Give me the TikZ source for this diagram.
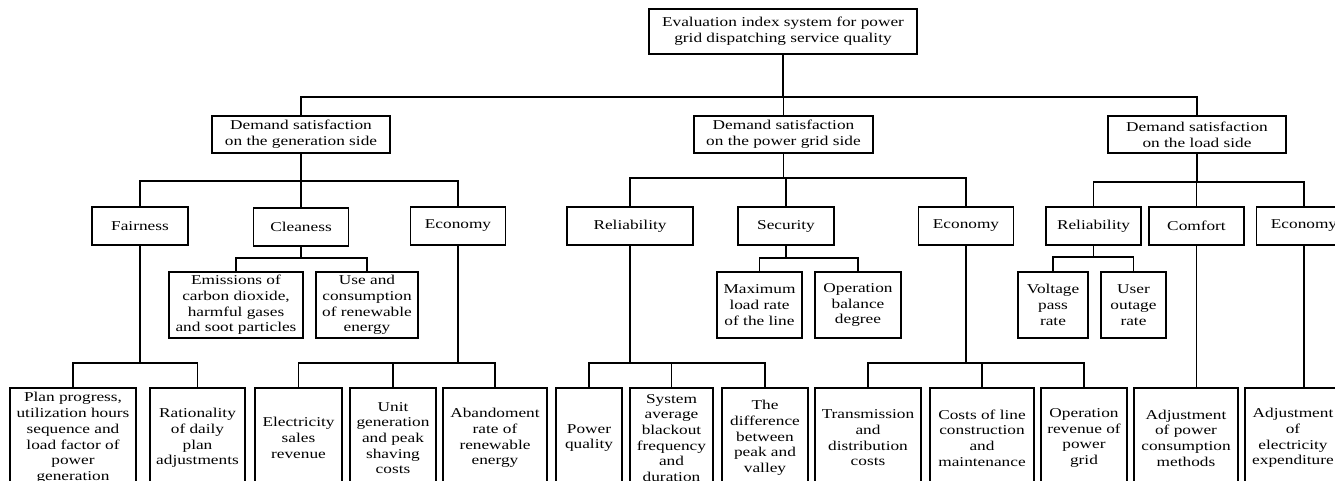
\documentclass[tikz,border=0pt]{standalone}
\usepackage{fontspec}
\setmainfont[FakeStretch=1.28]{Liberation Serif}
\begin{document}
\begin{tikzpicture}[x=1pt,y=-1pt,line width=1.2pt,
        box/.style={draw,align=center,inner sep=0pt,font=\fontsize{13.5}{15.7}\selectfont},
        top/.style={box,minimum height=37pt},
        crit/.style={box,minimum height=38pt},
        sub/.style={box,minimum height=66pt},
        leaf/.style={box,minimum height=100pt}]
        \useasboundingbox (0,0) rectangle (1335,481);
        \clip (0,0) rectangle (1335,481);
        \node[box,minimum width=268pt,minimum height=45pt] (root) at (783,31.5) {Evaluation index system for power\\grid dispatching service quality};
        \node[top,minimum width=178pt] (gen) at (301,134.5) {Demand satisfaction\\on the generation side};
        \node[top,minimum width=179pt] (grid) at (783.5,134.5) {Demand satisfaction\\on the power grid side};
        \node[top,minimum width=178pt] (load) at (1197,134.5) {Demand satisfaction\\on the load side};
        \node[crit,minimum width=96pt] (fair) at (140,226) {Fairness};
        \node[crit,minimum width=95pt] (clean) at (301,227) {Cleaness};
        \node[crit,minimum width=95pt] (econG) at (458,226) {Economy};
        \node[crit,minimum width=126pt] (relP) at (630,226) {Reliability};
        \node[crit,minimum width=96pt] (sec) at (786,226) {Security};
        \node[crit,minimum width=95pt] (econP) at (966,226) {Economy};
        \node[crit,minimum width=95pt] (relL) at (1093.5,226) {Reliability};
        \node[crit,minimum width=95pt] (comf) at (1196.5,226) {Comfort};
        \node[crit,minimum width=95pt] (econL) at (1304,226) {Economy};
        \node[sub,minimum width=134pt] (emis) at (236,305) {Emissions of\\carbon dioxide,\\harmful gases\\and soot particles};
        \node[sub,minimum width=102pt] (renew) at (367,305) {Use and\\consumption\\of renewable\\energy};
        \node[sub,minimum width=85pt] (maxl) at (759.5,305) {Maximum\\load rate\\of the line};
        \node[sub,minimum width=86pt] (bal) at (858,305) {Operation\\balance\\degree};
        \node[sub,minimum width=70pt] (volt) at (1053,305) {Voltage\\pass\\rate};
        \node[sub,minimum width=65pt] (outg) at (1133.5,305) {User\\outage\\rate};
        \node[leaf,minimum width=126pt] (plan) at (73,438) {Plan progress,\\utilization hours\\sequence and\\load factor of\\power\\generation};
        \node[leaf,minimum width=95pt] (ratio) at (197.5,438) {Rationality\\of daily\\plan\\adjustments};
        \node[leaf,minimum width=87pt] (sales) at (298.5,438) {Electricity\\sales\\revenue};
        \node[leaf,minimum width=86pt] (unit) at (393,438) {Unit\\generation\\and peak\\shaving\\costs};
        \node[leaf,minimum width=104pt] (aband) at (495,438) {Abandoment\\rate of\\renewable\\energy};
        \node[leaf,minimum width=66pt] (pq) at (589,438) {Power\\quality};
        \node[leaf,minimum width=83pt] (saifi) at (671.5,438) {System\\average\\blackout\\frequency\\and\\duration};
        \node[leaf,minimum width=86pt] (peak) at (765,438) {The\\difference\\between\\peak and\\valley};
        \node[leaf,minimum width=106pt] (trans) at (868,438) {Transmission\\and\\distribution\\costs};
        \node[leaf,minimum width=104pt] (lcost) at (982,438) {Costs of line\\construction\\and\\maintenance};
        \node[leaf,minimum width=86pt] (oprev) at (1084,438) {Operation\\revenue of\\power\\grid};
        \node[leaf,minimum width=104pt] (adjp) at (1186,438) {Adjustment\\of power\\consumption\\methods};
        \node[leaf,minimum width=96pt] (adje) at (1293,438) {Adjustment\\of\\electricity\\expenditure};
        \foreach \c in {gen,grid,load}
                \draw (root.south) |- (\c.north |- 0,97) -- (\c.north);
        \foreach \c in {fair,clean,econG}
                \draw (gen.south) |- (\c.north |- 0,181) -- (\c.north);
        \foreach \c in {relP,sec,econP}
                \draw (grid.south) |- (\c.north |- 0,178) -- (\c.north);
        \foreach \c in {relL,comf,econL}
                \draw (load.south) |- (\c.north |- 0,182) -- (\c.north);
        \foreach \c in {emis,renew}
                \draw (clean.south) |- (\c.north |- 0,258) -- (\c.north);
        \foreach \c in {maxl,bal}
                \draw (sec.south) |- (\c.north |- 0,258) -- (\c.north);
        \foreach \c in {volt,outg}
                \draw (relL.south) |- (\c.north |- 0,257) -- (\c.north);
        \foreach \c in {plan,ratio}
                \draw (fair.south) |- (\c.north |- 0,363) -- (\c.north);
        \foreach \c in {sales,unit,aband}
                \draw (econG.south) |- (\c.north |- 0,363) -- (\c.north);
        \foreach \c in {pq,saifi,peak}
                \draw (relP.south) |- (\c.north |- 0,363) -- (\c.north);
        \foreach \c in {trans,lcost,oprev}
                \draw (econP.south) |- (\c.north |- 0,363) -- (\c.north);
        \draw (comf.south) -- (comf.south |- adjp.north);
        \draw (econL.south) -- (econL.south |- adje.north);
\end{tikzpicture}
\end{document}
